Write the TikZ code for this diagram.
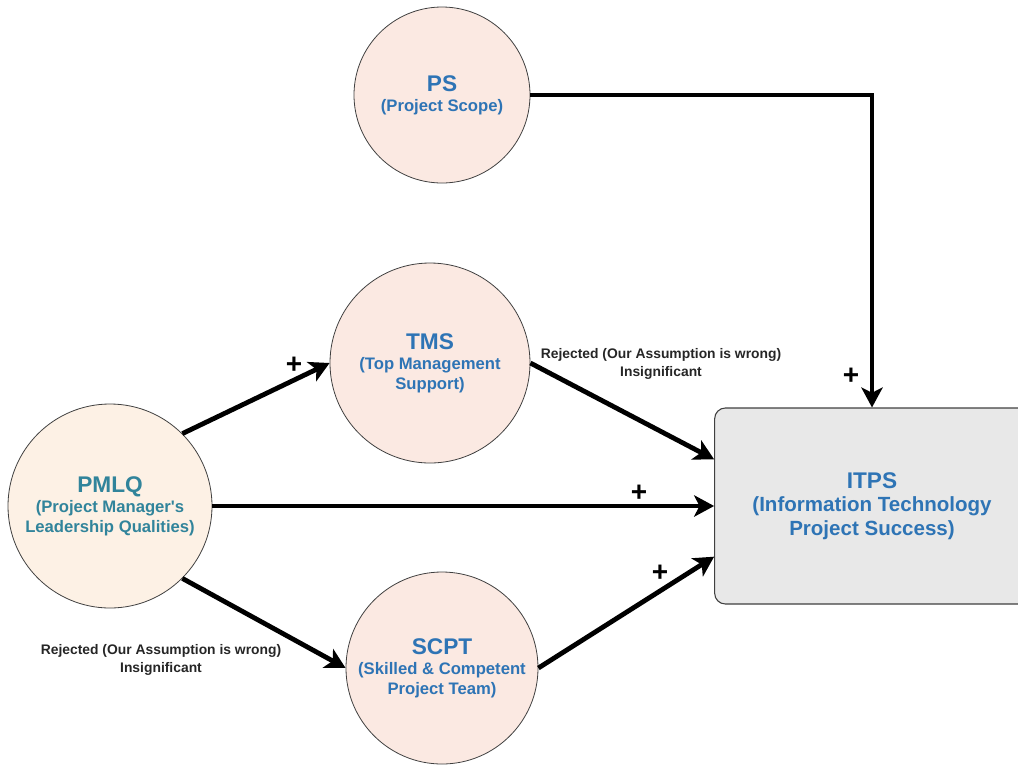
\documentclass[tikz,border=0pt]{standalone}
\usepackage{fontspec}
\setmainfont{Liberation Sans}
\usetikzlibrary{arrows.meta}
\definecolor{circfill}{HTML}{FBE9E2}
\definecolor{pmlqfill}{HTML}{FDF1E5}
\definecolor{txtblue}{HTML}{2E74B5}
\definecolor{txtteal}{HTML}{31849B}
\definecolor{boxfill}{HTML}{E8E8E8}
\newcommand{\headsize}{\fontsize{17}{20}\selectfont}
\newcommand{\subsize}{\fontsize{12.5}{15}\selectfont}
\tikzset{
  factor/.style={circle, draw=black!75, line width=0.6pt, fill=circfill, text=txtblue,
    align=center, font=\bfseries\subsize, inner sep=0pt},
  link/.style={line width=3.6pt, -{Stealth[length=15pt,width=16pt,inset=4pt]}},
  sign/.style={font=\bfseries\fontsize{21}{21}\selectfont, inner sep=0pt},
  note/.style={font=\bfseries\fontsize{10.4}{13}\selectfont, align=center, text=black!85, inner sep=0pt}
}
\begin{document}
\begin{tikzpicture}[x=0.75pt,y=-0.75pt]
\useasboundingbox (0,0) rectangle (1018,765);
\clip (0,0) rectangle (1018,765);
% factors
\node[factor, minimum size=132pt] (ps) at (442,95) {{\headsize PS}\\(Project Scope)};
\node[factor, minimum size=150pt] (tms) at (430,363) {{\headsize TMS}\\(Top Management\\Support)};
\node[factor, minimum size=153pt, fill=pmlqfill, text=txtteal] (pmlq) at (110,506)
  {{\headsize PMLQ}\\(Project Manager\textquotesingle s\\Leadership Qualities)};
\node[factor, minimum size=144pt] (scpt) at (442,668) {{\headsize SCPT}\\(Skilled \& Competent\\Project Team)};
\node[draw=black!75, line width=0.8pt, fill=boxfill, rounded corners=8pt, minimum width=236pt, minimum height=147pt,
  text=txtblue, align=center, font=\bfseries\fontsize{15.4}{17.5}\selectfont] (itps) at (872,506)
  {{\fontsize{17}{20}\selectfont ITPS}\\(Information Technology\\Project Success)};
% links
\draw[link] (ps.east) -| (itps.north);
\draw[link] (pmlq.45) -- (tms.west);
\draw[link] (tms.east) -- ([yshift=35pt]itps.west);
\draw[link] (pmlq.east) -- (itps.west);
\draw[link] (pmlq.-45) -- (scpt.west);
\draw[link] (scpt.east) -- ([yshift=-38pt]itps.west);
% signs and notes
\node[sign] (p1) at (294,365) {+};
\node[sign] (p2) at (851,376) {+};
\node[sign] (p3) at (639,493) {+};
\node[sign] (p4) at (660,573) {+};
\node[note] (n1) at (661,364) {Rejected (Our Assumption is wrong)\\Insignificant};
\node[note] (n2) at (161,660) {Rejected (Our Assumption is wrong)\\Insignificant};
\end{tikzpicture}
\end{document}
